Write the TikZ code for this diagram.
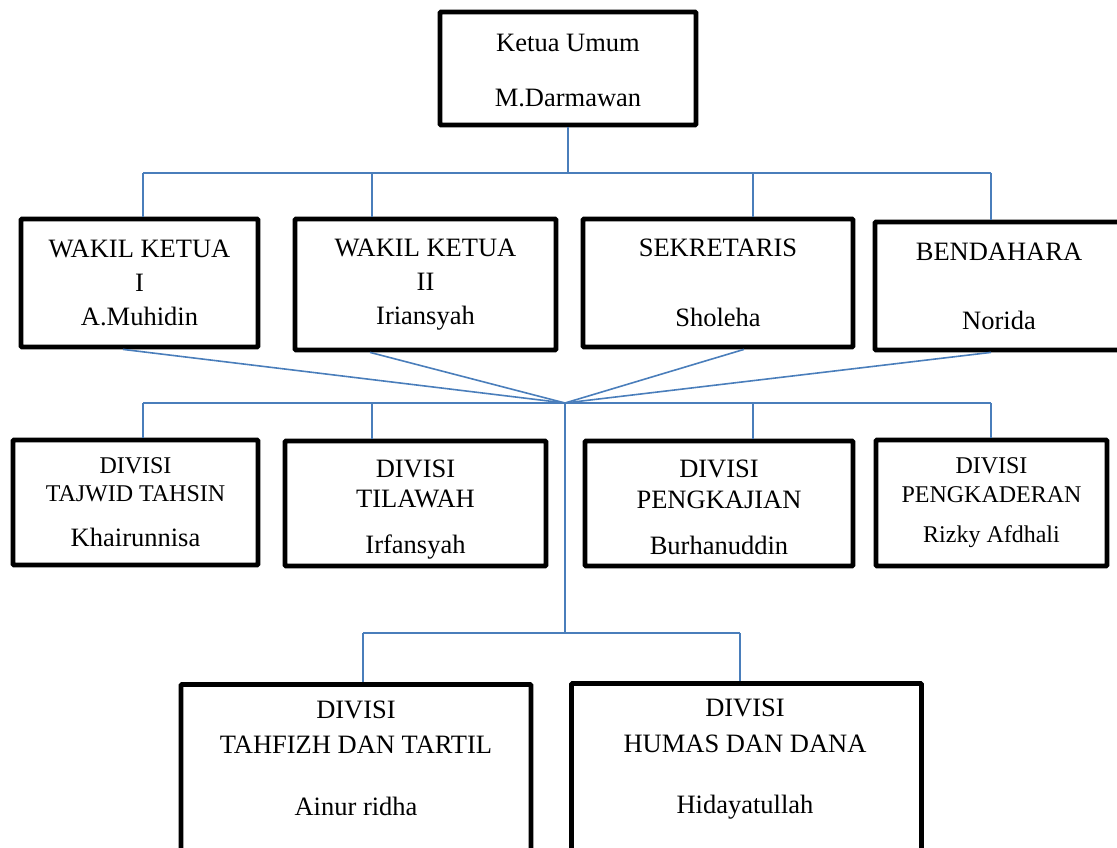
\documentclass[tikz,border=0pt]{standalone}
\usepackage{fontspec}
\setmainfont{Liberation Serif}
\definecolor{linkblue}{RGB}{74,126,187}
\tikzset{
	unit/.style={draw=black, line width=4.8pt, fill=white, rounded corners=1pt,
		inner sep=0pt, align=center, font=\fontsize{26.5}{34}\selectfont},
	unittext/.style={inner sep=0pt, align=center, font=\fontsize{26.5}{34}\selectfont},
	small/.style={font=\fontsize{24}{28}\selectfont},
	link/.style={draw=linkblue, line width=1.6pt}
}

\begin{document}
\begin{tikzpicture}[x=1pt, y=-1pt]
\useasboundingbox (0,0) rectangle (1117,848);
\clip (0,0) rectangle (1117,848);

\node [unit, minimum width=256, minimum height=113] (ketua) at (568,68.5)
	{\rule{0pt}{21pt}Ketua Umum\\[21pt]M.Darmawan};

\node [unit, minimum width=237, minimum height=128] (wakil1) at (139.5,283)
	{WAKIL KETUA\\I\\A.Muhidin};
\node [unit, minimum width=261, minimum height=131] (wakil2) at (425.5,284.5)
	{WAKIL KETUA\\II\\Iriansyah};
\node [unit, minimum width=270, minimum height=128] (sekretaris) at (718,283)
	{SEKRETARIS\\[36pt]Sholeha};
\node [unit, minimum width=248, minimum height=128] (bendahara) at (999,286)
	{BENDAHARA\\[35pt]Norida};

\node [unit, small, minimum width=245, minimum height=125] (tajwid) at (135.5,502.5)
	{DIVISI\\TAJWID TAHSIN\\[17pt]{\fontsize{26.5}{34}\selectfont Khairunnisa}};
\node [unit, minimum width=261, minimum height=125] (tilawah) at (415.5,503.5)
	{\rule{0pt}{29pt}DIVISI\\[-4pt]TILAWAH\\[12pt]Irfansyah};
\node [unit, minimum width=268, minimum height=125] (pengkajian) at (719,503.5)
	{\rule{0pt}{25pt}DIVISI\\[-3pt]PENGKAJIAN\\[12pt]Burhanuddin};
\node [unit, small, minimum width=231, minimum height=126] (pengkaderan) at (991.5,503)
	{DIVISI\\[1pt]PENGKADERAN\\[12pt]Rizky Afdhali};

\node [unit, minimum width=350, minimum height=200, anchor=north] (tahfizh) at (356,682) {};
\node [unit, minimum width=350, minimum height=200, anchor=north] (humas) at (746.5,681) {};
\node [unittext, anchor=north] (tahfizhtext) at (356,701)
	{DIVISI\\[1pt]TAHFIZH DAN TARTIL\\[28pt]Ainur ridha};
\node [unittext, anchor=north] (humastext) at (745,699)
	{DIVISI\\[2pt]HUMAS DAN DANA\\[27pt]Hidayatullah};

% connectors
\foreach \x/\n in {143/1, 372/2, 753/3, 991/4} {
	\coordinate (up\n) at (\x,173);
	\coordinate (mid\n) at (\x,403);
}
\coordinate (hub) at (565,403);
\coordinate (low) at (565,633);
\coordinate (low1) at (363,633);
\coordinate (low2) at (740,633);

\draw [link] (ketua.south) -- (ketua.south |- up1);
\draw [link] (up1) -- (up4);
\foreach \n/\unit in {1/wakil1, 2/wakil2, 3/sekretaris, 4/bendahara}
	\draw [link] (up\n) -- (up\n |- \unit.north);
\foreach \unit/\x in {wakil1/123, wakil2/370, sekretaris/744, bendahara/991}
	\draw [link] (\unit.south -| \x,0) -- (hub);
\draw [link] (mid1) -- (mid4);
\foreach \n/\unit in {1/tajwid, 2/tilawah, 3/pengkajian, 4/pengkaderan}
	\draw [link] (mid\n) -- (mid\n |- \unit.north);
\draw [link] (hub) -- (low);
\draw [link] (low1) -- (low2);
\draw [link] (low1) -- (low1 |- tahfizh.north);
\draw [link] (low2) -- (low2 |- humas.north);
\end{tikzpicture}
\end{document}
